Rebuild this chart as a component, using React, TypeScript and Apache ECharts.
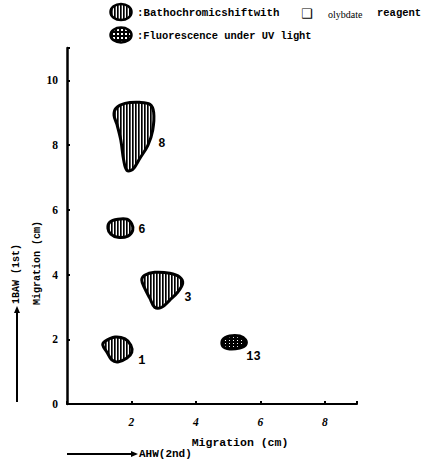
import React, { useEffect, useRef } from "react";
import * as echarts from "echarts";

// Spot outlines (data units: x = AHW migration cm, y = BAW migration cm)
const spot1: number[][] = [[1.18, 1.94], [1.49, 2.07], [1.8, 2.01], [1.98, 1.82], [2.01, 1.6], [1.86, 1.42], [1.58, 1.3], [1.39, 1.36], [1.24, 1.6], [1.11, 1.82]];
const spot3: number[][] = [[2.41, 3.98], [2.72, 4.07], [3.19, 4.04], [3.5, 3.92], [3.59, 3.73], [3.44, 3.46], [3.19, 3.21], [2.94, 2.99], [2.72, 2.99], [2.57, 3.27], [2.41, 3.58], [2.32, 3.83]];
const spot6: number[][] = [[1.33, 5.62], [1.58, 5.71], [1.86, 5.71], [2.01, 5.56], [2.04, 5.37], [1.89, 5.19], [1.58, 5.15], [1.36, 5.25], [1.27, 5.43]];
const spot8: number[][] = [[1.52, 9.14], [1.8, 9.29], [2.26, 9.32], [2.57, 9.26], [2.69, 9.01], [2.66, 8.46], [2.51, 7.99], [2.26, 7.59], [2.04, 7.25], [1.86, 7.22], [1.76, 7.53], [1.67, 8.15], [1.55, 8.64], [1.46, 8.92]];
const spot13: number[][] = [[4.83, 1.98], [5.05, 2.1], [5.36, 2.1], [5.54, 1.98], [5.54, 1.82], [5.36, 1.73], [5.05, 1.7], [4.83, 1.79]];

const spotNames = ["1", "3", "6", "8", "13"];
const spotOutlines = [spot1, spot3, spot6, spot8, spot13];
const spotKinds = ["bathochromic", "bathochromic", "bathochromic", "bathochromic", "fluorescence"];
const labelX = [2.32, 3.75, 2.32, 2.94, 5.79];
const labelY = [1.33, 3.27, 5.37, 8.03, 1.45];

const xTickLabels = ["2", "4", "6", "8"];
const yTickLabels = ["0", "2", "4", "6", "8", "10"];

const legendLine1 = ":Bathochromicshiftwith";
const legendBox = "❑";
const legendLine1b = "olybdate";
const legendLine1c = "reagent";
const legendLine2 = ":Fluorescence under UV light";
const xName = "Migration (cm)";
const yName = "Migration (cm)";
const xArrowName = "AHW(2nd)";
const yArrowName = "1BAW (1st)";

const MONO = '"Liberation Mono", "DejaVu Sans Mono", monospace';
const SERIF = '"Liberation Serif", "DejaVu Serif", serif';

function makeHatch(): HTMLCanvasElement {
  const c = document.createElement("canvas");
  c.width = 3;
  c.height = 3;
  const ctx = c.getContext("2d")!;
  ctx.fillStyle = "#fff";
  ctx.fillRect(0, 0, 3, 3);
  ctx.fillStyle = "#000";
  ctx.fillRect(0, 0, 1, 3);
  ctx.fillStyle = "#555";
  ctx.fillRect(1, 0, 1, 3);
  return c;
}

function makeDots(): HTMLCanvasElement {
  const c = document.createElement("canvas");
  c.width = 4;
  c.height = 3;
  const ctx = c.getContext("2d")!;
  ctx.fillStyle = "#000";
  ctx.fillRect(0, 0, 4, 3);
  ctx.fillStyle = "#fff";
  ctx.fillRect(1, 1, 1, 1);
  return c;
}

function makeLattice(): HTMLCanvasElement {
  const c = document.createElement("canvas");
  c.width = 4;
  c.height = 4;
  const ctx = c.getContext("2d")!;
  ctx.fillStyle = "#000";
  ctx.fillRect(0, 0, 4, 4);
  ctx.fillStyle = "#fff";
  ctx.fillRect(1, 1, 2, 2);
  return c;
}

export default function App() {
  const ref = useRef<HTMLDivElement>(null);
  useEffect(() => {
    if (!ref.current) return;
    const chart = echarts.init(ref.current, null, { renderer: "svg" });
    const hatch = { image: makeHatch(), repeat: "repeat" };
    const dots = { image: makeDots(), repeat: "repeat" };
    const lattice = { image: makeLattice(), repeat: "repeat" };

    const option: any = {
      animation: false,
      backgroundColor: "#fff",
      grid: { left: 67, right: 67, top: 48, bottom: 60, containLabel: false },
      xAxis: {
        type: "value",
        min: 0,
        max: 9,
        interval: 2,
        axisLine: { show: true, onZero: false, lineStyle: { color: "#000", width: 2 } },
        axisTick: { show: true, inside: true, length: 3, lineStyle: { color: "#000", width: 2 } },
        splitLine: { show: false },
        axisLabel: {
          margin: 12,
          color: "#000",
          fontFamily: SERIF,
          fontWeight: "bold",
          fontSize: 11.5,
          fontStyle: "italic",
          formatter: (v: number) => (xTickLabels.indexOf(String(v)) >= 0 ? String(v) : ""),
        },
      },
      yAxis: {
        type: "value",
        min: 0,
        max: 11,
        interval: 2,
        axisLine: { show: true, onZero: false, lineStyle: { color: "#000", width: 2.5 } },
        axisTick: { show: true, inside: true, length: 3, lineStyle: { color: "#000", width: 2 } },
        splitLine: { show: false },
        axisLabel: {
          margin: 9,
          color: "#000",
          fontFamily: SERIF,
          fontWeight: "bold",
          fontSize: 11.5,
          formatter: (v: number) => (yTickLabels.indexOf(String(v)) >= 0 ? String(v) : ""),
        },
      },
      series: [
        {
          type: "custom",
          coordinateSystem: "cartesian2d",
          data: spotNames.map((n, i) => [labelX[i], labelY[i]]),
          clip: false,
          renderItem: (params: any, api: any) => {
            const i = params.dataIndex;
            const pts = spotOutlines[i].map((p) => api.coord(p));
            const lp = api.coord([labelX[i], labelY[i]]);
            return {
              type: "group",
              children: [
                {
                  type: "polygon",
                  shape: { points: pts, smooth: 0.35 },
                  style: {
                    fill: spotKinds[i] === "fluorescence" ? dots : hatch,
                    stroke: "#000",
                    lineWidth: 3,
                  },
                },
                {
                  type: "text",
                  x: lp[0],
                  y: lp[1],
                  style: {
                    text: spotNames[i],
                    font: `bold 12px ${MONO}`,
                    fill: "#000",
                    align: "center",
                    verticalAlign: "middle",
                  },
                },
              ],
            };
          },
        },
      ],
      graphic: [
        // legend
        { type: "ellipse", shape: { cx: 121, cy: 12, rx: 10.5, ry: 8 }, style: { fill: hatch, stroke: "#000", lineWidth: 2.5 } },
        { type: "text", x: 137, y: 13, style: { text: legendLine1, font: `bold 10.8px ${MONO}`, fill: "#000", align: "left", verticalAlign: "middle" } },
        { type: "text", x: 301, y: 13, style: { text: legendBox, font: `13px "DejaVu Sans"`, fill: "#000", align: "left", verticalAlign: "middle" } },
        { type: "text", x: 328, y: 14, style: { text: legendLine1b, font: `10px ${SERIF}`, fill: "#000", align: "left", verticalAlign: "middle" } },
        { type: "text", x: 377, y: 13, style: { text: legendLine1c, font: `bold 10.5px ${MONO}`, fill: "#000", align: "left", verticalAlign: "middle" } },
        { type: "ellipse", shape: { cx: 121, cy: 35, rx: 10.5, ry: 7.5 }, style: { fill: lattice, stroke: "#000", lineWidth: 2.5 } },
        { type: "text", x: 137, y: 36, style: { text: legendLine2, font: `bold 10.4px ${MONO}`, fill: "#000", align: "left", verticalAlign: "middle" } },
        // x axis name & arrow
        { type: "text", x: 240, y: 442, style: { text: xName, font: `bold 11.5px ${MONO}`, fill: "#000", align: "center", verticalAlign: "middle" } },
        { type: "line", shape: { x1: 67, y1: 454, x2: 132, y2: 454 }, style: { stroke: "#000", lineWidth: 2 } },
        { type: "polygon", shape: { points: [[131, 451], [138, 454], [131, 457]] }, style: { fill: "#000" } },
        { type: "text", x: 139, y: 454, style: { text: xArrowName, font: `bold 11px ${MONO}`, fill: "#000", align: "left", verticalAlign: "middle" } },
        // y axis name & arrow
        { type: "text", x: 37, y: 263, rotation: Math.PI / 2, style: { text: yName, font: `bold 10px ${MONO}`, fill: "#000", align: "center", verticalAlign: "middle" } },
        { type: "text", x: 16, y: 274, rotation: Math.PI / 2, style: { text: yArrowName, font: `bold 10px ${MONO}`, fill: "#000", align: "center", verticalAlign: "middle" } },
        { type: "line", shape: { x1: 17, y1: 402, x2: 17, y2: 312 }, style: { stroke: "#000", lineWidth: 2 } },
        { type: "polygon", shape: { points: [[14, 313], [17, 306], [20, 313]] }, style: { fill: "#000" } },
      ],
    };
    chart.setOption(option);
    return () => chart.dispose();
  }, []);
  return <div ref={ref} style={{ position: "fixed", left: 0, top: 0, width: 424, height: 464 }} />;
}
